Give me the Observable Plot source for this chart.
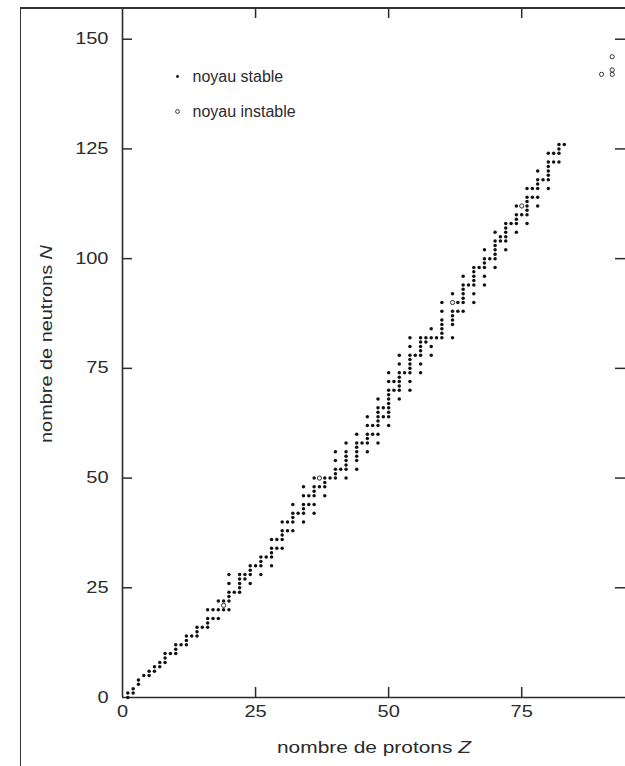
<!DOCTYPE html>
<html><head><meta charset="utf-8">
<script src="https://cdn.jsdelivr.net/npm/d3@7"></script>
<script src="https://cdn.jsdelivr.net/npm/@observablehq/plot@0.6"></script>
<style>
body{margin:0;background:#fff;}
#wrap{position:relative;width:625px;height:766px;overflow:hidden;background:#fff;}
#page{position:absolute;left:20px;top:7px;width:640px;height:800px;border-left:1.6px solid #333;border-top:2px solid #333;pointer-events:none;}
</style></head><body><div id="wrap"><div id="chart"></div><div id="page"></div></div>
<script>
// Proton numbers Z of the stable nuclei drawn, and their neutron numbers N
const protonNumbers = [1,2,3,4,5,6,7,8,9,10,11,12,13,14,15,16,17,18,19,20,21,22,23,24,25,26,27,28,29,30,
  31,32,33,34,35,36,37,38,39,40,41,42,44,45,46,47,48,49,50,51,52,53,54,55,56,57,58,59,60,62,
  63,64,65,66,67,68,69,70,71,72,73,74,75,76,77,78,79,80,81,82,83];
const neutronNumbers = [
  [0,1],[1,2],[3,4],[5],[5,6],[6,7],[7,8],[8,9,10],[10],[10,11,12],
  [12],[12,13,14],[14],[14,15,16],[16],[16,17,18,20],[18,20],[18,20,22],[20,22],[20,22,23,24,26,28],
  [24],[24,25,26,27,28],[27,28],[26,28,29,30],[30],[28,30,31,32],[32],[30,32,33,34,36],[34,36],[34,36,37,38,40],
  [38,40],[38,40,41,42,44],[42],[40,42,43,44,46,48],[44,46],[42,44,46,47,48,50],[48],[46,48,49,50],[50],[50,51,52,54,56],
  [52],[50,52,53,54,55,56,58],[52,54,55,56,57,58,60],[58],[56,58,59,60,62,64],[60,62],[58,60,62,63,64,65,66,68],[64,66],
  [62,64,65,66,67,68,69,70,72,74],[70,72],[68,70,71,72,73,74,76,78],[74],[70,72,74,75,76,77,78,80,82],[78],
  [74,76,78,79,80,81,82],[81,82],[78,80,82,84],[82],[82,83,84,85,86,88,90],[82,85,86,87,88,92],
  [88,90],[88,90,91,92,93,94,96],[94],[90,92,94,95,96,97,98],[98],[94,96,98,99,100,102],[100],
  [98,100,101,102,103,104,106],[104,105],[102,104,105,106,107,108],[108],[106,108,109,110,112],[110],
  [108,110,111,112,113,114,116],[114,116],[112,114,116,117,118,120],[118],[116,118,119,120,121,122,124],
  [122,124],[122,124,125,126],[126]
];
// Unstable (radioactive) nuclei marked with open circles
const unstableZ = [19, 37, 62, 75, 90, 92, 92, 92];
const unstableN = [21, 50, 90, 112, 142, 142, 143, 146];
// Axis ticks and legend
const xTicks = [0, 25, 50, 75];
const yTicks = [0, 25, 50, 75, 100, 125, 150];
const legendLabels = ["noyau stable", "noyau instable"];

const stable = protonNumbers.flatMap((z, i) => neutronNumbers[i].map(n => ({Z: z, N: n})));
const unstable = unstableZ.map((z, i) => ({Z: z, N: unstableN[i]}));

const W = 625, H = 766, mt = 8, mb = 69, ml = 122, mr = 0;
const ph = H - mt - mb, pw = W - ml - mr, tk = 10;
const ink = "#2b2b2b";

const plot = Plot.plot({
  width: W, height: H,
  marginTop: mt, marginBottom: mb, marginLeft: ml, marginRight: mr,
  style: {fontFamily: "'Liberation Sans', Arial, Helvetica, sans-serif", fontSize: "16px", color: ink, background: "#fff"},
  x: {domain: [0, 94.5]},
  y: {domain: [0, 157]},
  marks: [
    Plot.axisX(xTicks, {tickSize: 0, tickPadding: 8, label: "nombre de protons Z", labelAnchor: "center", labelOffset: 55, labelArrow: "none", fontSize: 16}),
    Plot.axisY(yTicks, {tickSize: 0, tickPadding: 14, label: "nombre de neutrons N", labelAnchor: "center", labelOffset: 82, labelArrow: "none", fontSize: 16}),
    Plot.ruleX([0], {stroke: ink, strokeWidth: 1.6}),
    Plot.ruleY([0], {stroke: ink, strokeWidth: 1.6}),
    Plot.tickX(xTicks.slice(1), {x: d => d, insetTop: ph - tk, stroke: ink, strokeWidth: 1.5}),
    Plot.tickX(xTicks.slice(1), {x: d => d, insetBottom: ph - tk, stroke: ink, strokeWidth: 1.5}),
    Plot.tickY(yTicks.slice(1), {y: d => d, insetRight: pw - tk, stroke: ink, strokeWidth: 1.5}),
    Plot.tickY(yTicks.slice(1), {y: d => d, insetLeft: pw - tk, stroke: ink, strokeWidth: 1.5}),
    Plot.dot(stable, {x: "Z", y: "N", r: 1.75, fill: "#111", stroke: null}),
    Plot.dot(unstable, {x: "Z", y: "N", r: 2.1, fill: "#fff", stroke: "#333", strokeWidth: 1}),
    Plot.dot([legendLabels[0]], {frameAnchor: "top-left", dx: 55, dy: 68, r: 1.4, fill: "#111", stroke: null}),
    Plot.dot([legendLabels[1]], {frameAnchor: "top-left", dx: 55, dy: 103, r: 1.9, fill: "#fff", stroke: "#333", strokeWidth: 1}),
    Plot.text([legendLabels[0]], {text: d => d, frameAnchor: "top-left", dx: 70, dy: 68, lineAnchor: "middle", textAnchor: "start", fontSize: 16, fill: ink}),
    Plot.text([legendLabels[1]], {text: d => d, frameAnchor: "top-left", dx: 70, dy: 103, lineAnchor: "middle", textAnchor: "start", fontSize: 16, fill: ink})
  ]
});
document.getElementById("chart").appendChild(plot);

// Post-process text: italic variable letters and the scan's wide lettering
const svg = d3.select(plot);
svg.selectAll("text").each(function() {
  const t = d3.select(this);
  const s = this.textContent;
  if (s === "nombre de protons Z" || s === "nombre de neutrons N") {
    const last = s.slice(-1);
    t.text(s.slice(0, -1));
    t.append("tspan").attr("font-style", "italic").text(last);
    t.attr("textLength", s.endsWith("Z") ? 194 : 198).attr("lengthAdjust", "spacingAndGlyphs");
    if (s.endsWith("N")) t.attr("dx", 9);
  } else if (/^\d+$/.test(s)) {
    const len = this.getComputedTextLength();
    t.attr("textLength", len * 1.25).attr("lengthAdjust", "spacingAndGlyphs");
  }
});
</script></body></html>
